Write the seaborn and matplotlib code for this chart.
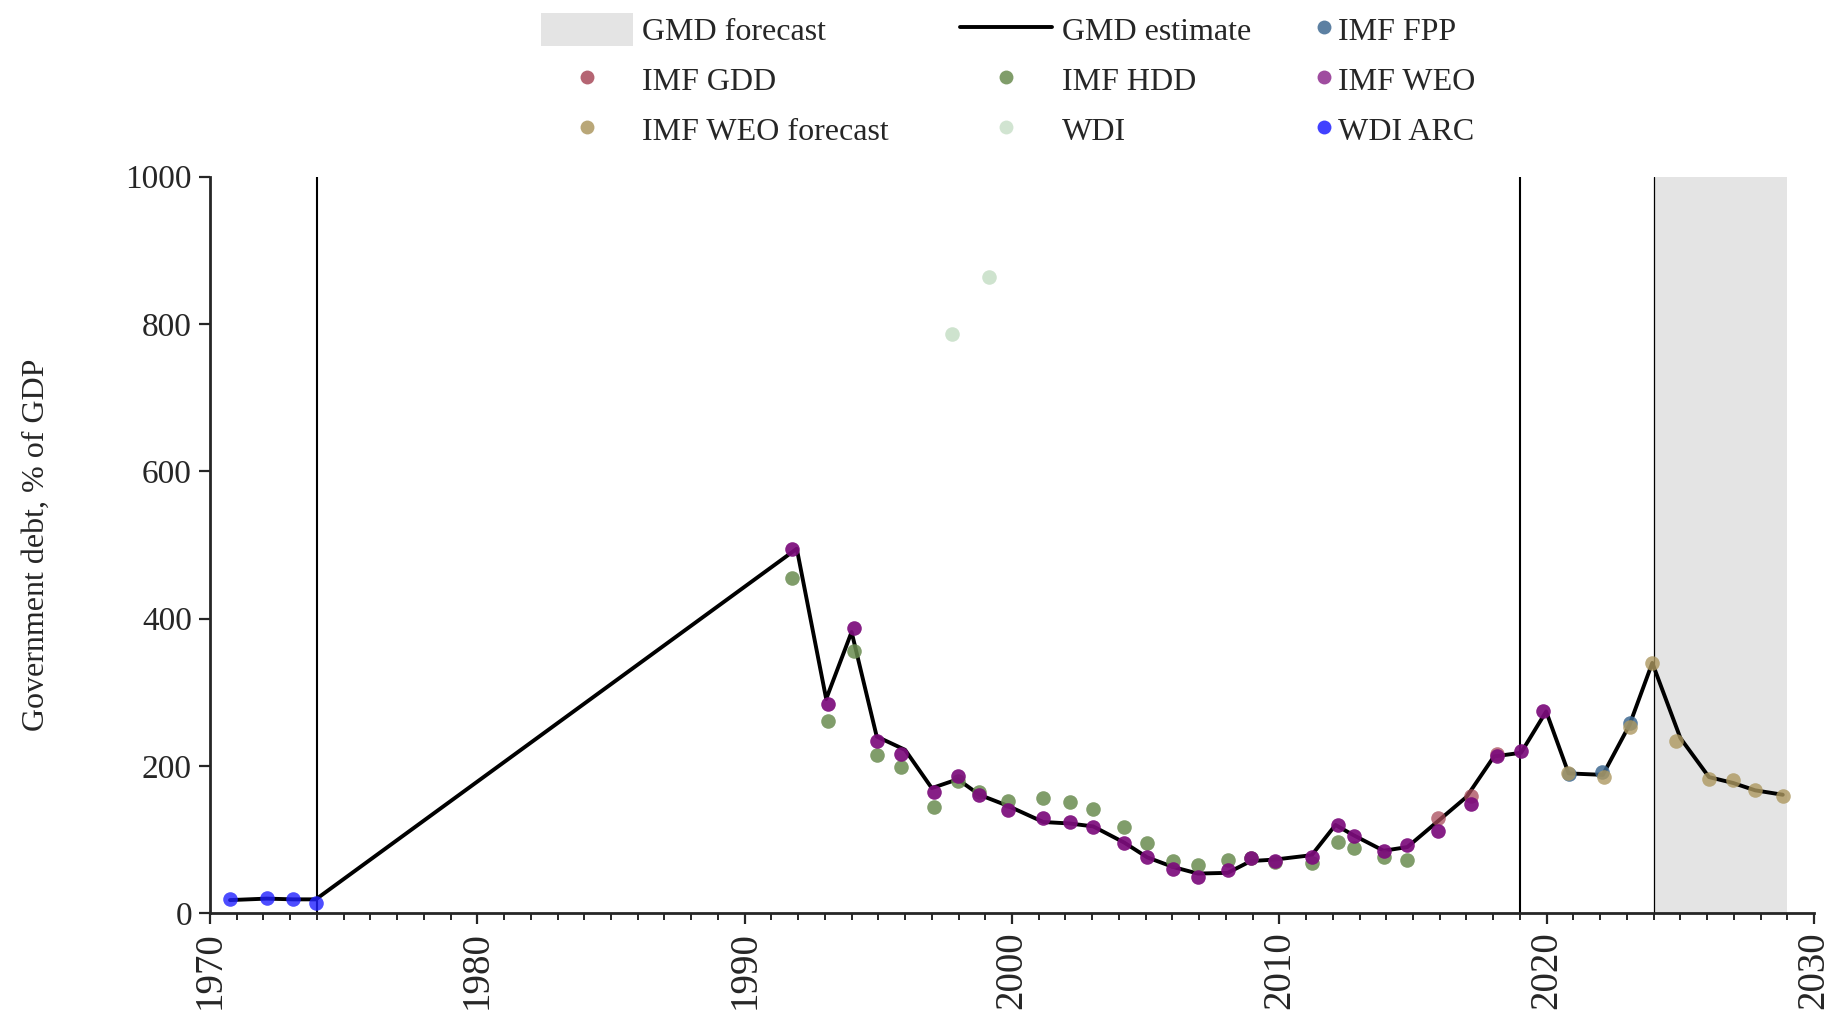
import matplotlib
matplotlib.use("Agg")
import matplotlib.pyplot as plt
from matplotlib.lines import Line2D
from matplotlib.patches import Patch
import numpy as np
import pandas as pd
import seaborn as sns

# -------------------------------------------------------------------
# data
# -------------------------------------------------------------------
gmd_years = [1970.75, 1972.12, 1973.11, 1973.96, 1991.95, 1993.05, 1994.0, 1994.94,
             1996.0, 1997.0, 1997.97, 1998.78, 1999.84, 2001.17, 2002.16, 2003.04,
             2004.2, 2005.06, 2006.02, 2006.95, 2008.07, 2008.93, 2009.83, 2011.21,
             2012.1, 2012.78, 2013.9, 2014.79, 2017.0, 2018.03, 2019.04, 2019.98,
             2020.82, 2022.1, 2023.1, 2023.95, 2025.0, 2026.07, 2026.97, 2027.8, 2028.83]
gmd_values = [18, 20, 19, 19, 495, 291, 382, 240,
              222, 170, 182, 161, 146, 124, 122, 118,
              96, 76, 63, 54, 55, 71, 73, 79,
              120, 106, 85, 90, 158, 213, 218, 274,
              190, 188, 256, 340, 238, 185, 177, 167, 161]

weo_years = [1991.77, 1993.12, 1994.09, 1994.94, 1995.83, 1997.08, 1997.97, 1998.78,
             1999.84, 2001.17, 2002.16, 2003.04, 2004.2, 2005.06, 2006.02, 2006.95,
             2008.07, 2008.93, 2009.83, 2011.21, 2012.18, 2012.78, 2013.9, 2014.79,
             2015.93, 2017.18, 2018.15, 2019.04, 2019.87]
weo_values = [495, 284, 387, 234, 217, 165, 186, 160,
              140, 130, 124, 117, 96, 76, 60, 49,
              59, 75, 71, 77, 120, 105, 85, 93,
              112, 149, 214, 221, 275]

hdd_years = weo_years[:24]
hdd_values = [455, 261, 356, 215, 199, 144, 180, 165,
              152, 156, 151, 142, 117, 96, 71, 66,
              73, 75, 70, 69, 97, 89, 77, 73]

gdd_years = [2015.93, 2017.18, 2018.15]
gdd_values = [130, 159, 216]

fpp_years = [2020.82, 2022.08, 2023.1]
fpp_values = [189, 192, 259]

weo_fc_years = [2020.8, 2022.13, 2023.1, 2023.95, 2024.83, 2026.07, 2026.97, 2027.8, 2028.83]
weo_fc_values = [190, 185, 253, 340, 234, 182, 181, 167, 159]

wdi_years = [1997.77, 1999.13]
wdi_values = [787, 864]

wdi_arc_years = [1970.75, 1972.12, 1973.11, 1973.96]
wdi_arc_values = [19, 21, 20, 14]

x_ticks = [1970, 1980, 1990, 2000, 2010, 2020, 2030]
y_ticks = [0, 200, 400, 600, 800, 1000]
break_years = [1974, 2019]
forecast_span = (2024, 2029)

colors = {
    "IMF FPP": "#3f6a92",
    "IMF GDD": "#a84a5a",
    "IMF HDD": "#6a8c50",
    "IMF WEO": "#8e2c8e",
    "IMF WEO forecast": "#ad9860",
    "WDI": "#c6dec6",
    "WDI ARC": "#2020ff",
}

# -------------------------------------------------------------------
# style
# -------------------------------------------------------------------
sns.set_style("ticks")
plt.rcParams["font.family"] = ["Liberation Serif", "DejaVu Serif"]
plt.rcParams["axes.linewidth"] = 2.0

fig = plt.figure(figsize=(18.37, 10.18), dpi=100)
ax = fig.add_axes([0.1143, 0.1028, 0.8732, 0.7236])

ax.axvspan(*forecast_span, color="#e4e4e4", lw=0, zorder=0)
ax.axvline(forecast_span[0], color="black", lw=0.9, zorder=1)
for yr in break_years:
    ax.axvline(yr, color="black", lw=1.5, zorder=1)

gmd = pd.DataFrame({"year": gmd_years, "value": gmd_values})
sns.lineplot(data=gmd, x="year", y="value", sort=False, estimator=None,
             color="black", lw=2.8, ax=ax, zorder=3)

series = [
    ("IMF HDD", hdd_years, hdd_values, 0.85),
    ("WDI", wdi_years, wdi_values, 0.85),
    ("WDI ARC", wdi_arc_years, wdi_arc_values, 0.8),
    ("IMF GDD", gdd_years, gdd_values, 0.75),
    ("IMF FPP", fpp_years, fpp_values, 0.85),
    ("IMF WEO forecast", weo_fc_years, weo_fc_values, 0.8),
]
for name, xs, ys, a in series:
    sns.scatterplot(x=xs, y=ys, color=colors[name], s=110, linewidth=0,
                    alpha=a, ax=ax, zorder=4)
# the WEO points look darker than their legend dot in the reference
sns.scatterplot(x=weo_years, y=weo_values, color="#7c0c7c", s=110, linewidth=0,
                alpha=0.92, ax=ax, zorder=5)

ax.set_xlim(1970, 2030)
ax.set_ylim(0, 1000)
ax.set_xticks(x_ticks)
ax.set_xticks(np.arange(1970, 2031), minor=True)
ax.set_yticks(y_ticks)
ax.tick_params(axis="x", which="major", length=8, width=1.6, labelsize=28,
               labelrotation=90, pad=5)
ax.tick_params(axis="x", which="minor", length=5, width=1.4)
ax.tick_params(axis="y", which="major", length=8, width=1.6, labelsize=24, pad=5)
ax.set_xlabel("")
ax.set_ylabel("Government debt, % of GDP", fontsize=23)
ax.yaxis.set_label_coords(-0.099, 0.5)
sns.despine(ax=ax)

# -------------------------------------------------------------------
# legend: three columns placed by hand
# -------------------------------------------------------------------
def dot(name, a=0.8):
    return Line2D([], [], ls="", marker="o", ms=10, mew=0,
                  color=colors[name], alpha=a)

col1 = [Patch(facecolor="#e4e4e4", edgecolor="none"), dot("IMF GDD", 0.85), dot("IMF WEO forecast", 0.85)]
col1_labels = ["GMD forecast", "IMF GDD", "IMF WEO forecast"]
col2 = [Line2D([], [], color="black", lw=2.8), dot("IMF HDD", 0.85), dot("WDI", 0.8)]
col2_labels = ["GMD estimate", "IMF HDD", "WDI"]
col3 = [dot("IMF FPP", 0.85), dot("IMF WEO", 0.85), dot("WDI ARC", 0.85)]
col3_labels = ["IMF FPP", "IMF WEO", "WDI ARC"]

common = dict(loc="upper left", frameon=False, fontsize=23, borderpad=0,
              borderaxespad=0, labelspacing=0.5, handleheight=1.2)
top = 1 - 13 / 1018
fig.legend(col1, col1_labels, bbox_to_anchor=(541 / 1837, top),
           handlelength=2.87, handletextpad=0.3, **common)
fig.legend(col2, col2_labels, bbox_to_anchor=(960 / 1837, top),
           handlelength=2.87, handletextpad=0.33, **common)
fig.legend(col3, col3_labels, bbox_to_anchor=(1318 / 1837, top),
           handlelength=0.4, handletextpad=0.24, **common)

fig.savefig("out.png", dpi=100)
